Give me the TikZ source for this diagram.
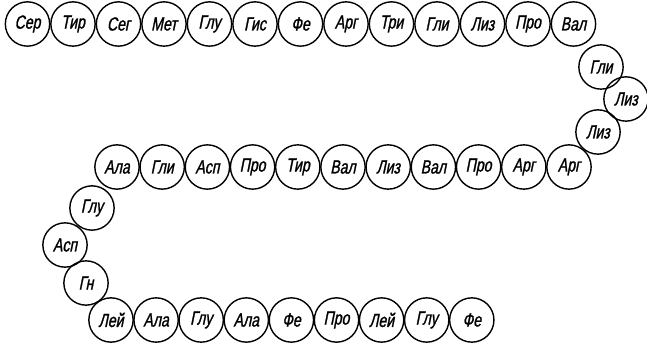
\documentclass[tikz,border=0pt]{standalone}
\usepackage{fontspec}
\newfontfamily\aafont[FakeStretch=0.74,FakeSlant=0.2,FakeBold=1.2]{Liberation Sans}
\usepackage{tikz}
\usetikzlibrary{positioning}

\begin{document}
\begin{tikzpicture}[x=1pt, y=-1pt,
  aa/.style={draw, circle, line width=1.4pt, minimum size=44.3pt, inner sep=0pt,
             outer sep=0pt, font=\aafont\fontsize{19}{19}\selectfont}]

  \useasboundingbox (0,0) rectangle (647,344);

  % upper chain, left to right
  \node[aa] (t1) at (27.5,24) {Сер};
  \node[aa, right=1.2pt of t1]  (t2)  {Тир};
  \node[aa, right=1.2pt of t2]  (t3)  {Сег};
  \node[aa, right=1.2pt of t3]  (t4)  {Мет};
  \node[aa, right=1.2pt of t4]  (t5)  {Глу};
  \node[aa, right=1.2pt of t5]  (t6)  {Гис};
  \node[aa, right=1.2pt of t6]  (t7)  {Фе};
  \node[aa, right=1.2pt of t7]  (t8)  {Арг};
  \node[aa, right=1.2pt of t8]  (t9)  {Три};
  \node[aa, right=1.2pt of t9]  (t10) {Гли};
  \node[aa, right=1.2pt of t10] (t11) {Лиз};
  \node[aa, right=1.2pt of t11] (t12) {Про};
  \node[aa, right=1.2pt of t12] (t13) {Вал};

  % turn on the right
  \node[aa] (r1) at (601,67)  {Гли};
  \node[aa] (r2) at (626,99)  {Лиз};
  \node[aa] (r3) at (598,132) {Лиз};

  % middle chain
  \node[aa] (m1) at (117,167) {Ала};
  \node[aa, right=0.9pt of m1]  (m2)  {Гли};
  \node[aa, right=0.9pt of m2]  (m3)  {Асп};
  \node[aa, right=0.9pt of m3]  (m4)  {Про};
  \node[aa, right=0.9pt of m4]  (m5)  {Тир};
  \node[aa, right=0.9pt of m5]  (m6)  {Вал};
  \node[aa, right=0.9pt of m6]  (m7)  {Лиз};
  \node[aa, right=0.9pt of m7]  (m8)  {Вал};
  \node[aa, right=0.9pt of m8]  (m9)  {Про};
  \node[aa, right=0.9pt of m9]  (m10) {Арг};
  \node[aa, right=0.9pt of m10] (m11) {Арг};

  % turn on the left
  \node[aa] (l1) at (92,208) {Глу};
  \node[aa] (l2) at (65,245) {Асп};
  \node[aa] (l3) at (86,283) {Гн};

  % lower chain
  \node[aa] (b1) at (111,320) {Лей};
  \node[aa, right=0.8pt of b1] (b2) {Ала};
  \node[aa, right=0.8pt of b2] (b3) {Глу};
  \node[aa, right=0.8pt of b3] (b4) {Ала};
  \node[aa, right=0.8pt of b4] (b5) {Фе};
  \node[aa, right=0.8pt of b5] (b6) {Про};
  \node[aa, right=0.8pt of b6] (b7) {Лей};
  \node[aa, right=0.8pt of b7] (b8) {Глу};
  \node[aa, right=0.8pt of b8] (b9) {Фе};
\end{tikzpicture}
\end{document}
